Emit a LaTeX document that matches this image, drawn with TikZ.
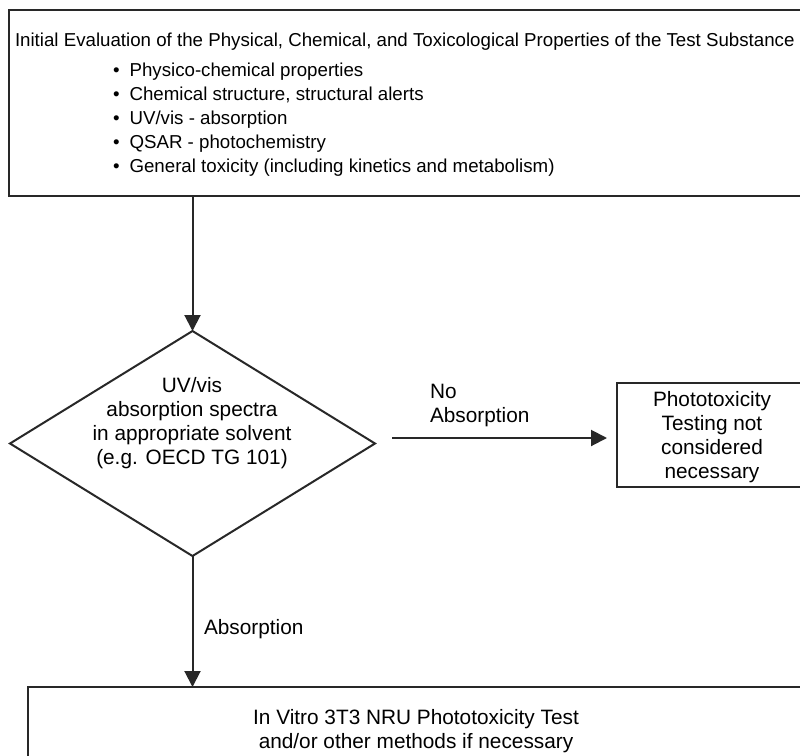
\documentclass[tikz,border=0pt]{standalone}
\usepackage{fontspec}
\setmainfont{Liberation Sans}
\usetikzlibrary{shapes.geometric,arrows.meta}
\definecolor{ink}{RGB}{40,40,40}
\begin{document}
\begin{tikzpicture}[x=1pt,y=-1pt,
  box/.style={draw=ink,line width=2pt,inner sep=0pt,outer sep=0pt,anchor=north west},
  txt/.style={inner sep=0pt,outer sep=0pt,font=\fontsize{20.8}{24}\selectfont,text=black},
  toptxt/.style={inner sep=0pt,outer sep=0pt,font=\fontsize{18.7}{24}\selectfont,text=black},
  arr/.style={draw=ink,line width=2pt,-{Triangle[length=16pt,width=16pt]}}]
\useasboundingbox (0,0) rectangle (800,755);
\clip (0,0) rectangle (800,755);
\fill[white] (0,0) rectangle (800,755);
% boxes
\node[box,minimum width=830pt,minimum height=186pt] (top) at (9,10) {};
\node[draw=ink,line width=2pt,shape=diamond,inner sep=0pt,outer sep=0pt,
      minimum width=365pt,minimum height=225pt] (dia) at (192.5,443.5) {};
\node[box,minimum width=250pt,minimum height=104pt] (photo) at (617,383) {};
\node[box,minimum width=830pt,minimum height=120pt] (vitro) at (28,687) {};
% texts
\node[toptxt,anchor=base west] (title) at (15,46) {Initial Evaluation of the Physical, Chemical, and Toxicological Properties of the Test Substance};
\node[toptxt,anchor=north west,align=left] (list) at (113,63) {%
\textbullet\hspace{10pt}Physico-chemical properties\\
\textbullet\hspace{10pt}Chemical structure, structural alerts\\
\textbullet\hspace{10pt}UV/vis - absorption\\
\textbullet\hspace{10pt}QSAR - photochemistry\\
\textbullet\hspace{10pt}General toxicity (including kinetics and metabolism)};
\node[txt,align=center] (diatxt) at (192,423) {UV/vis\\absorption spectra\\in appropriate solvent\\(e.g. OECD TG 101)};
\node[txt,align=center] (phototxt) at (712,437.5) {Phototoxicity\\Testing not\\considered\\necessary};
\node[txt,align=center] (vitrotxt) at (416,731) {In Vitro 3T3 NRU Phototoxicity Test\\and/or other methods if necessary};
\node[txt,align=left,anchor=west] (nolab) at (430,405) {No\\Absorption};
\node[txt,anchor=west] (abslab) at (204,629) {Absorption};
% connectors
\draw[arr] (top.south -| dia.north) -- (dia.north);
\draw[arr] ([shift={(17,-5.5)}]dia.east) -- ([shift={(-10,3)}]photo.west);
\draw[arr] (dia.south) -- (dia.south |- vitro.north);
\end{tikzpicture}
\end{document}
